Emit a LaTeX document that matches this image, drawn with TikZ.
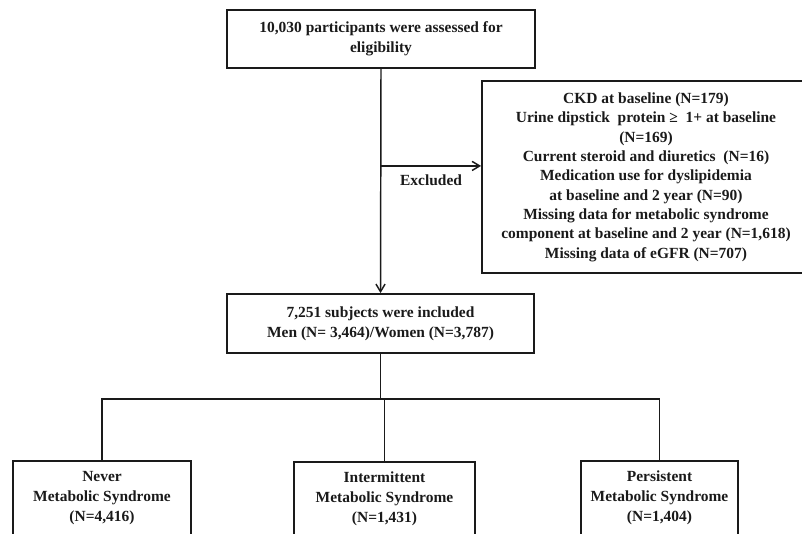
\documentclass[tikz,border=0pt]{standalone}
\usepackage{fontspec}
\setmainfont{Liberation Serif}
\usetikzlibrary{arrows.meta,calc,positioning}
\definecolor{flowink}{HTML}{1A1A1A}
\tikzset{
  flowtext/.style={font=\fontsize{11.6}{15}\selectfont\bfseries, text=flowink},
  flowbox/.style={draw=flowink, line width=1.4pt, rectangle, align=center,
    inner sep=0pt, font=\fontsize{11.6}{15}\selectfont\bfseries, text=flowink},
  flowline/.style={draw=flowink, line width=1.1pt},
  flowarrow/.style={-{Straight Barb[length=2mm,width=2.4mm]}, draw=flowink, line width=1.1pt}
}

\begin{document}
\begin{tikzpicture}[x=.75pt,y=-.75pt]
  \clip (0,0) rectangle (802,533);
  \node[flowbox, minimum width=231pt, minimum height=43.5pt] (start) at (381,39)
    {10,030 participants were assessed for\\eligibility};
  \node[flowbox, minimum width=246pt, minimum height=144pt,
    font=\fontsize{11.6}{14.5}\selectfont\bfseries] (excl) at (646,177)
    {CKD at baseline (N=179)\\
     Urine dipstick\ \ protein ≥\ \ 1+ at baseline\\
     (N=169)\\
     Current steroid and diuretics\ \ (N=16)\\
     Medication use for dyslipidemia\\
     at baseline and 2 year (N=90)\\
     Missing data for metabolic syndrome\\
     component at baseline and 2 year (N=1,618)\\
     Missing data of eGFR (N=707)};
  \node[flowbox, minimum width=230.25pt, minimum height=44.25pt] (incl) at (380.5,323.5)
    {7,251 subjects were included\\Men (N= 3,464)/Women (N=3,787)};
  \node[flowbox, minimum width=133.5pt, minimum height=55.5pt] (never) at (102,498)
    {Never\\Metabolic Syndrome\\(N=4,416)};
  \node[flowbox, minimum width=135.75pt, minimum height=55.5pt] (inter) at (384.5,499)
    {Intermittent\\Metabolic Syndrome\\(N=1,431)};
  \node[flowbox, minimum width=117.75pt, minimum height=55.5pt] (persist) at (659.5,498)
    {Persistent\\Metabolic Syndrome\\(N=1,404)};

  % exclusion branch
  \coordinate (split) at ($(start.south)+(0,97)$);
  \draw[flowarrow] (start.south) -- (incl.north);
  \draw[flowarrow] (split) -- (excl.west |- split)
    node[flowtext, midway, below=3pt] (exlabel) {Excluded};

  % three groups
  \coordinate (bus) at ($(incl.south)+(0,45)$);
  \draw[flowline] (incl.south) -- (bus);
  \draw[flowline] (never.north) -- (never.north |- bus) -- (persist.north |- bus) -- (persist.north);
  \draw[flowline] (inter.north) -- (inter.north |- bus);
\end{tikzpicture}
\end{document}
